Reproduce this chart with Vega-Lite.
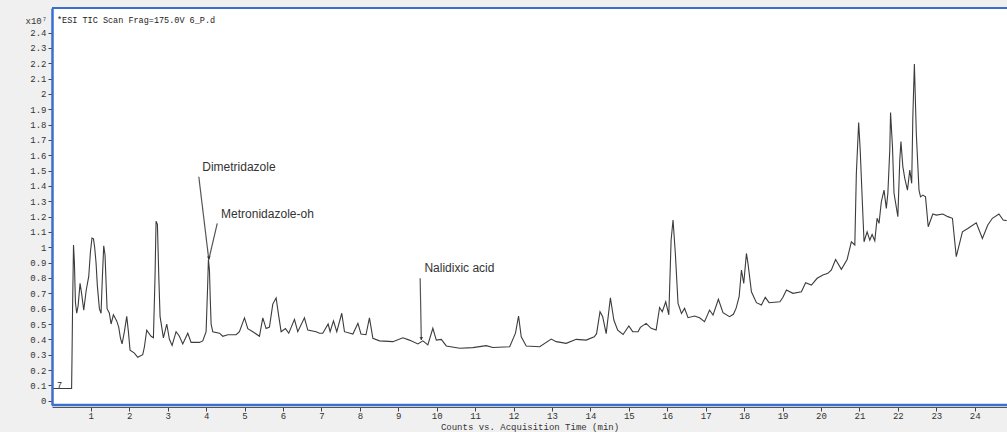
{
  "$schema": "https://vega.github.io/schema/vega-lite/v6.json",
  "autosize": {"type": "none"},
  "padding": {"left": 52, "top": 8, "right": 0, "bottom": 27},
  "width": 955,
  "height": 397,
  "background": "#f0f0f0",
  "config": {
    "view": {"stroke": null, "fill": "white"},
    "axisX": {
      "grid": false, "domainColor": "#555555", "offset": 2, "tickColor": "#444444", "tickSize": 4,
      "labelFont": "Liberation Mono", "labelFontSize": 9, "labelColor": "#333333", "labelPadding": 0,
      "titleFont": "Liberation Mono", "titleFontSize": 9, "titleFontWeight": "normal", "titleColor": "#333333", "titlePadding": 2
    },
    "axisY": {
      "grid": false, "domain": true, "domainColor": "#3b6fcf", "domainWidth": 2.5,
      "tickSize": 4, "tickColor": "#444444", "labelPadding": 2,
      "labelFont": "Liberation Mono", "labelFontSize": 9, "labelColor": "#333333",
      "titleFont": "Liberation Mono", "titleFontSize": 9, "titleFontWeight": "normal", "titleColor": "#333333"
    }
  },
  "layer": [
    {
      "data": {"values": [
        {"t":0.03,"v":0.08},{"t":0.5,"v":0.08},{"t":0.51,"v":0.27},{"t":0.525,"v":0.6},{"t":0.55,"v":1.015},
        {"t":0.573,"v":0.9},{"t":0.6,"v":0.64},{"t":0.633,"v":0.57},{"t":0.67,"v":0.62},{"t":0.72,"v":0.765},
        {"t":0.76,"v":0.7},{"t":0.816,"v":0.59},{"t":0.88,"v":0.72},{"t":0.946,"v":0.81},{"t":0.99,"v":0.97},
        {"t":1.03,"v":1.06},{"t":1.07,"v":1.055},{"t":1.1,"v":1.0},{"t":1.136,"v":0.9},{"t":1.17,"v":0.75},{"t":1.223,"v":0.6},
        {"t":1.266,"v":0.57},{"t":1.3,"v":0.8},{"t":1.336,"v":1.01},{"t":1.37,"v":0.95},{"t":1.423,"v":0.6},
        {"t":1.483,"v":0.57},{"t":1.527,"v":0.5},{"t":1.588,"v":0.56},{"t":1.674,"v":0.52},{"t":1.726,"v":0.48},
        {"t":1.77,"v":0.41},{"t":1.813,"v":0.37},{"t":1.874,"v":0.45},{"t":1.935,"v":0.55},{"t":1.978,"v":0.45},
        {"t":2.021,"v":0.33},{"t":2.134,"v":0.31},{"t":2.221,"v":0.283},{"t":2.351,"v":0.3},{"t":2.394,"v":0.35},
        {"t":2.455,"v":0.46},{"t":2.568,"v":0.42},{"t":2.629,"v":0.41},{"t":2.67,"v":0.8},{"t":2.698,"v":1.17},
        {"t":2.733,"v":1.15},{"t":2.77,"v":0.8},{"t":2.802,"v":0.55},{"t":2.889,"v":0.41},{"t":2.976,"v":0.5},
        {"t":3.045,"v":0.4},{"t":3.115,"v":0.36},{"t":3.219,"v":0.45},{"t":3.305,"v":0.42},{"t":3.392,"v":0.37},
        {"t":3.523,"v":0.44},{"t":3.61,"v":0.38},{"t":3.826,"v":0.38},{"t":3.913,"v":0.39},{"t":4.0,"v":0.45},
        {"t":4.04,"v":0.75},{"t":4.06,"v":0.92},{"t":4.087,"v":0.85},{"t":4.11,"v":0.65},{"t":4.13,"v":0.5},
        {"t":4.173,"v":0.45},{"t":4.347,"v":0.44},{"t":4.434,"v":0.42},{"t":4.564,"v":0.43},{"t":4.781,"v":0.43},
        {"t":4.867,"v":0.45},{"t":4.998,"v":0.54},{"t":5.085,"v":0.47},{"t":5.215,"v":0.45},{"t":5.388,"v":0.42},
        {"t":5.475,"v":0.54},{"t":5.562,"v":0.47},{"t":5.648,"v":0.48},{"t":5.735,"v":0.63},{"t":5.822,"v":0.67},
        {"t":5.891,"v":0.55},{"t":5.952,"v":0.45},{"t":6.065,"v":0.47},{"t":6.151,"v":0.44},{"t":6.299,"v":0.53},
        {"t":6.385,"v":0.45},{"t":6.559,"v":0.54},{"t":6.646,"v":0.46},{"t":6.863,"v":0.45},{"t":6.95,"v":0.44},
        {"t":7.036,"v":0.44},{"t":7.175,"v":0.5},{"t":7.227,"v":0.45},{"t":7.314,"v":0.52},{"t":7.4,"v":0.45},
        {"t":7.53,"v":0.57},{"t":7.6,"v":0.45},{"t":7.82,"v":0.435},{"t":7.95,"v":0.505},{"t":8.03,"v":0.435},
        {"t":8.16,"v":0.43},{"t":8.25,"v":0.54},{"t":8.34,"v":0.407},{"t":8.51,"v":0.39},{"t":8.86,"v":0.385},
        {"t":9.12,"v":0.41},{"t":9.29,"v":0.395},{"t":9.51,"v":0.37},{"t":9.64,"v":0.39},{"t":9.77,"v":0.364},
        {"t":9.9,"v":0.472},{"t":9.99,"v":0.395},{"t":10.12,"v":0.4},{"t":10.25,"v":0.357},{"t":10.6,"v":0.342},
        {"t":10.94,"v":0.346},{"t":11.29,"v":0.359},{"t":11.46,"v":0.347},{"t":11.9,"v":0.352},{"t":12.05,"v":0.44},
        {"t":12.13,"v":0.552},{"t":12.2,"v":0.417},{"t":12.33,"v":0.357},{"t":12.68,"v":0.352},{"t":12.98,"v":0.402},
        {"t":13.11,"v":0.385},{"t":13.37,"v":0.374},{"t":13.63,"v":0.4},{"t":13.89,"v":0.395},{"t":14.1,"v":0.417},
        {"t":14.16,"v":0.437},{"t":14.25,"v":0.58},{"t":14.32,"v":0.547},{"t":14.41,"v":0.437},{"t":14.52,"v":0.67},
        {"t":14.61,"v":0.526},{"t":14.71,"v":0.46},{"t":14.85,"v":0.432},{"t":15.0,"v":0.487},{"t":15.1,"v":0.45},
        {"t":15.24,"v":0.45},{"t":15.3,"v":0.478},{"t":15.45,"v":0.504},{"t":15.58,"v":0.472},{"t":15.71,"v":0.461},
        {"t":15.8,"v":0.608},{"t":15.87,"v":0.58},{"t":15.96,"v":0.645},{"t":16.04,"v":0.56},{"t":16.1,"v":1.048},
        {"t":16.15,"v":1.178},{"t":16.21,"v":0.96},{"t":16.28,"v":0.634},{"t":16.37,"v":0.569},{"t":16.45,"v":0.602},
        {"t":16.54,"v":0.541},{"t":16.71,"v":0.552},{"t":16.84,"v":0.541},{"t":16.97,"v":0.515},{"t":17.1,"v":0.591},
        {"t":17.19,"v":0.558},{"t":17.33,"v":0.661},{"t":17.45,"v":0.574},{"t":17.62,"v":0.548},{"t":17.72,"v":0.563},
        {"t":17.79,"v":0.602},{"t":17.87,"v":0.678},{"t":17.93,"v":0.852},{"t":17.99,"v":0.765},{"t":18.06,"v":0.96},
        {"t":18.1,"v":0.895},{"t":18.19,"v":0.71},{"t":18.32,"v":0.639},{"t":18.45,"v":0.624},{"t":18.55,"v":0.674},
        {"t":18.65,"v":0.639},{"t":18.93,"v":0.645},{"t":19.01,"v":0.674},{"t":19.1,"v":0.722},{"t":19.27,"v":0.7},
        {"t":19.49,"v":0.71},{"t":19.6,"v":0.769},{"t":19.75,"v":0.754},{"t":19.9,"v":0.798},{"t":20.05,"v":0.82},
        {"t":20.18,"v":0.83},{"t":20.27,"v":0.852},{"t":20.38,"v":0.921},{"t":20.53,"v":0.856},{"t":20.68,"v":0.921},
        {"t":20.79,"v":1.036},{"t":20.88,"v":1.015},{"t":20.92,"v":1.481},{"t":20.98,"v":1.813},{"t":21.02,"v":1.635},
        {"t":21.07,"v":1.329},{"t":21.12,"v":1.036},{"t":21.2,"v":1.101},{"t":21.27,"v":1.047},{"t":21.33,"v":1.084},
        {"t":21.4,"v":1.043},{"t":21.46,"v":1.189},{"t":21.51,"v":1.156},{"t":21.57,"v":1.297},{"t":21.64,"v":1.373},
        {"t":21.7,"v":1.254},{"t":21.74,"v":1.352},{"t":21.79,"v":1.635},{"t":21.81,"v":1.878},{"t":21.86,"v":1.656},
        {"t":21.9,"v":1.352},{"t":22.0,"v":1.2},{"t":22.05,"v":1.569},{"t":22.08,"v":1.689},{"t":22.13,"v":1.526},
        {"t":22.18,"v":1.45},{"t":22.25,"v":1.373},{"t":22.31,"v":1.504},{"t":22.36,"v":1.417},{"t":22.39,"v":1.852},
        {"t":22.43,"v":2.195},{"t":22.48,"v":1.743},{"t":22.55,"v":1.373},{"t":22.59,"v":1.329},{"t":22.65,"v":1.34},
        {"t":22.72,"v":1.329},{"t":22.79,"v":1.134},{"t":22.91,"v":1.217},{"t":23.0,"v":1.21},{"t":23.17,"v":1.217},
        {"t":23.3,"v":1.2},{"t":23.42,"v":1.189},{"t":23.52,"v":0.939},{"t":23.68,"v":1.101},{"t":23.82,"v":1.123},
        {"t":24.04,"v":1.16},{"t":24.2,"v":1.058},{"t":24.34,"v":1.145},{"t":24.46,"v":1.189},{"t":24.63,"v":1.217},
        {"t":24.74,"v":1.178},{"t":24.83,"v":1.174}
      ]},
      "mark": {"type": "line", "color": "#3c3c3c", "strokeWidth": 1.1, "clip": true},
      "encoding": {
        "x": {"field": "t", "type": "quantitative", "scale": {"domain": [-0.01, 24.84], "nice": false, "zero": false},
          "axis": {"values": [1,2,3,4,5,6,7,8,9,10,11,12,13,14,15,16,17,18,19,20,21,22,23,24], "format": "d", "title": "Counts vs. Acquisition Time (min)"}},
        "y": {"field": "v", "type": "quantitative", "scale": {"domain": [-0.028, 2.56], "nice": false, "zero": false},
          "axis": {"values": [0,0.1,0.2,0.3,0.4,0.5,0.6,0.7,0.8,0.9,1,1.1,1.2,1.3,1.4,1.5,1.6,1.7,1.8,1.9,2,2.1,2.2,2.3,2.4], "format": "~g", "title": "x10⁷", "titleAngle": 0, "titleX": -27, "titleY": 12, "titleAlign": "left", "titleBaseline": "middle"}}
      }
    },
    {
      "data": {"values": [{}]},
      "mark": {"type": "rule", "color": "#3b6fcf", "strokeWidth": 2},
      "encoding": {
        "x": {"datum": -0.01, "type": "quantitative",
          "axis": {"values": [1,2,3,4,5,6,7,8,9,10,11,12,13,14,15,16,17,18,19,20,21,22,23,24], "format": "d", "title": "Counts vs. Acquisition Time (min)"}},
        "x2": {"datum": 24.84},
        "y": {"datum": 2.56, "type": "quantitative",
          "axis": {"values": [0,0.1,0.2,0.3,0.4,0.5,0.6,0.7,0.8,0.9,1,1.1,1.2,1.3,1.4,1.5,1.6,1.7,1.8,1.9,2,2.1,2.2,2.3,2.4], "format": "~g", "title": "x10⁷", "titleAngle": 0, "titleX": -27, "titleY": 12, "titleAlign": "left", "titleBaseline": "middle"}}
      }
    },
    {
      "data": {"values": [{}]},
      "mark": {"type": "rule", "color": "#3b6fcf", "strokeWidth": 2.5},
      "encoding": {
        "x": {"datum": -0.01, "type": "quantitative",
          "axis": {"values": [1,2,3,4,5,6,7,8,9,10,11,12,13,14,15,16,17,18,19,20,21,22,23,24], "format": "d", "title": "Counts vs. Acquisition Time (min)"}},
        "x2": {"datum": 24.84},
        "y": {"datum": -0.028, "type": "quantitative",
          "axis": {"values": [0,0.1,0.2,0.3,0.4,0.5,0.6,0.7,0.8,0.9,1,1.1,1.2,1.3,1.4,1.5,1.6,1.7,1.8,1.9,2,2.1,2.2,2.3,2.4], "format": "~g", "title": "x10⁷", "titleAngle": 0, "titleX": -27, "titleY": 12, "titleAlign": "left", "titleBaseline": "middle"}}
      }
    },
    {
      "data": {"values": [
        {"t": 3.81, "v": 1.46, "t2": 4.07, "v2": 0.92},
        {"t": 4.29, "v": 1.156, "t2": 4.07, "v2": 0.92},
        {"t": 9.57, "v": 0.798, "t2": 9.6, "v2": 0.396}
      ]},
      "mark": {"type": "rule", "color": "#555555", "strokeWidth": 1.2},
      "encoding": {
        "x": {"field": "t", "type": "quantitative",
          "axis": {"values": [1,2,3,4,5,6,7,8,9,10,11,12,13,14,15,16,17,18,19,20,21,22,23,24], "format": "d", "title": "Counts vs. Acquisition Time (min)"}},
        "y": {"field": "v", "type": "quantitative",
          "axis": {"values": [0,0.1,0.2,0.3,0.4,0.5,0.6,0.7,0.8,0.9,1,1.1,1.2,1.3,1.4,1.5,1.6,1.7,1.8,1.9,2,2.1,2.2,2.3,2.4], "format": "~g", "title": "x10⁷", "titleAngle": 0, "titleX": -27, "titleY": 12, "titleAlign": "left", "titleBaseline": "middle"}},
        "x2": {"field": "t2"},
        "y2": {"field": "v2"}
      }
    },
    {
      "data": {"values": [
        {"t": 4.07, "v": 0.93},
        {"t": 9.6, "v": 0.405}
      ]},
      "mark": {"type": "point", "shape": "triangle-down", "size": 14, "filled": true, "color": "#222222"},
      "encoding": {
        "x": {"field": "t", "type": "quantitative",
          "axis": {"values": [1,2,3,4,5,6,7,8,9,10,11,12,13,14,15,16,17,18,19,20,21,22,23,24], "format": "d", "title": "Counts vs. Acquisition Time (min)"}},
        "y": {"field": "v", "type": "quantitative",
          "axis": {"values": [0,0.1,0.2,0.3,0.4,0.5,0.6,0.7,0.8,0.9,1,1.1,1.2,1.3,1.4,1.5,1.6,1.7,1.8,1.9,2,2.1,2.2,2.3,2.4], "format": "~g", "title": "x10⁷", "titleAngle": 0, "titleX": -27, "titleY": 12, "titleAlign": "left", "titleBaseline": "middle"}}
      }
    },
    {
      "data": {"values": [
        {"t": 3.9, "v": 1.523, "label": "Dimetridazole"},
        {"t": 4.39, "v": 1.217, "label": "Metronidazole-oh"},
        {"t": 9.68, "v": 0.865, "label": "Nalidixic acid"}
      ]},
      "mark": {"type": "text", "align": "left", "baseline": "middle", "font": "Liberation Sans", "fontSize": 12, "color": "#333333"},
      "encoding": {
        "x": {"field": "t", "type": "quantitative",
          "axis": {"values": [1,2,3,4,5,6,7,8,9,10,11,12,13,14,15,16,17,18,19,20,21,22,23,24], "format": "d", "title": "Counts vs. Acquisition Time (min)"}},
        "y": {"field": "v", "type": "quantitative",
          "axis": {"values": [0,0.1,0.2,0.3,0.4,0.5,0.6,0.7,0.8,0.9,1,1.1,1.2,1.3,1.4,1.5,1.6,1.7,1.8,1.9,2,2.1,2.2,2.3,2.4], "format": "~g", "title": "x10⁷", "titleAngle": 0, "titleX": -27, "titleY": 12, "titleAlign": "left", "titleBaseline": "middle"}},
        "text": {"field": "label"}
      }
    },
    {
      "data": {"values": [
        {"t": 0.12, "v": 2.48, "label": "*ESI TIC Scan Frag=175.0V 6_P.d"},
        {"t": 0.12, "v": 0.105, "label": "7"}
      ]},
      "mark": {"type": "text", "align": "left", "baseline": "middle", "font": "Liberation Mono", "fontSize": 8.5, "color": "#222222"},
      "encoding": {
        "x": {"field": "t", "type": "quantitative",
          "axis": {"values": [1,2,3,4,5,6,7,8,9,10,11,12,13,14,15,16,17,18,19,20,21,22,23,24], "format": "d", "title": "Counts vs. Acquisition Time (min)"}},
        "y": {"field": "v", "type": "quantitative",
          "axis": {"values": [0,0.1,0.2,0.3,0.4,0.5,0.6,0.7,0.8,0.9,1,1.1,1.2,1.3,1.4,1.5,1.6,1.7,1.8,1.9,2,2.1,2.2,2.3,2.4], "format": "~g", "title": "x10⁷", "titleAngle": 0, "titleX": -27, "titleY": 12, "titleAlign": "left", "titleBaseline": "middle"}},
        "text": {"field": "label"}
      }
    }
  ]
}
